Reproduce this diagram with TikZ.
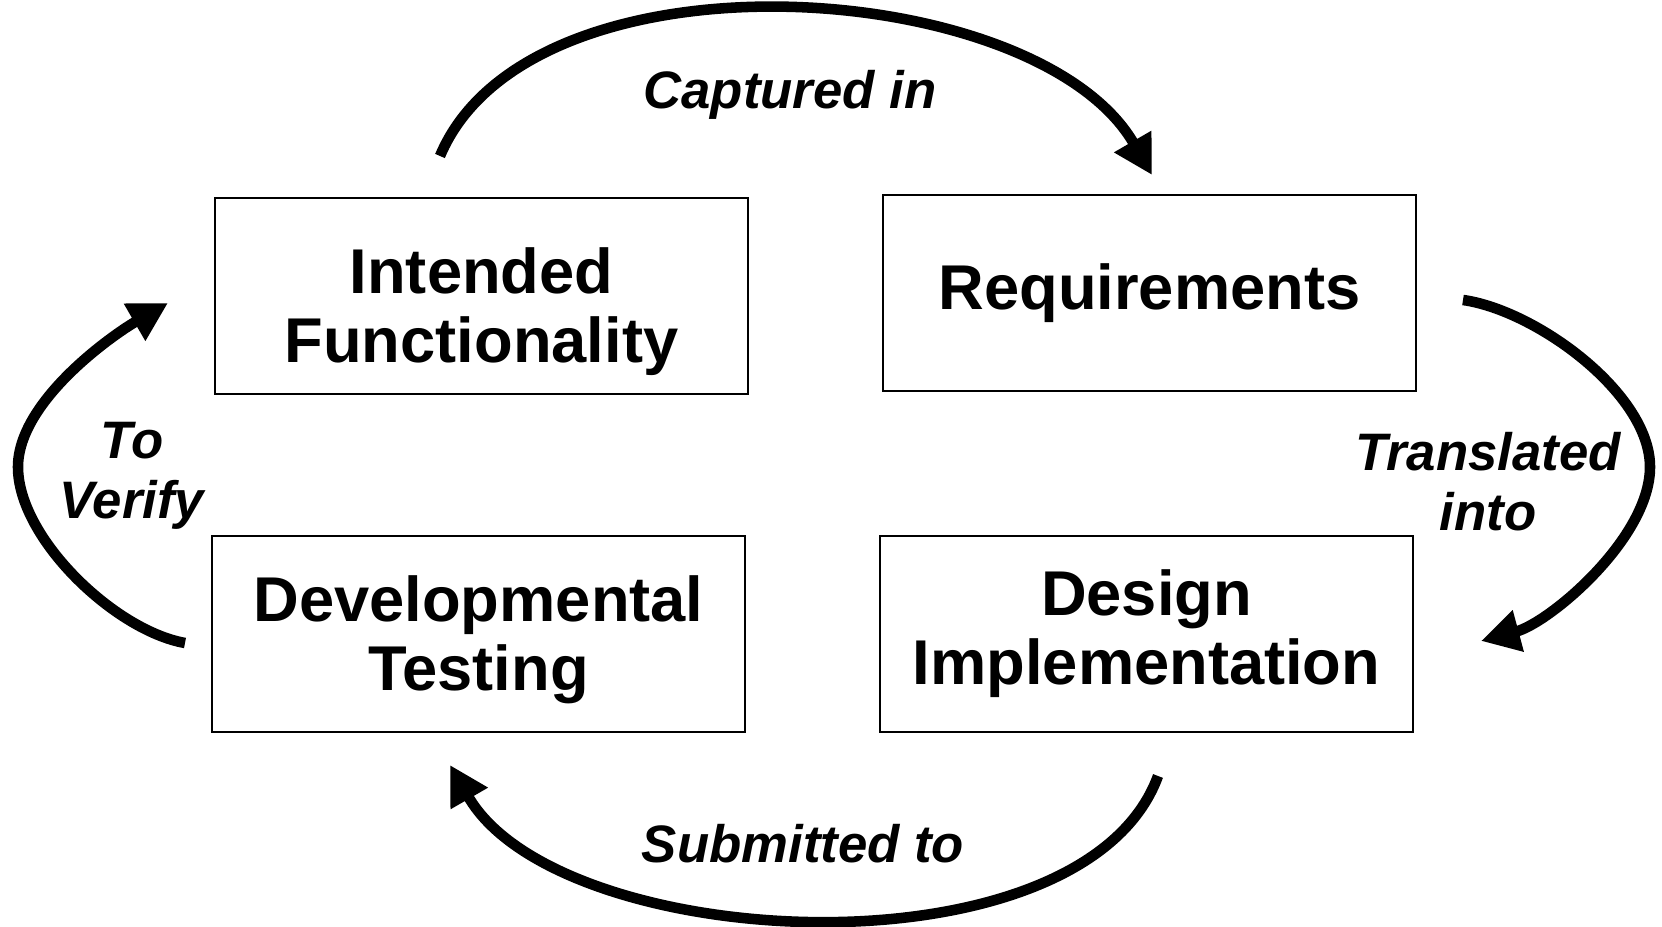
\documentclass[tikz,border=0pt]{standalone}
\usepackage{fontspec}
\setmainfont{Liberation Sans}
\usetikzlibrary{arrows.meta}

\begin{document}
\begin{tikzpicture}[
    box/.style={draw, line width=0.7pt, minimum width=5.33cm, minimum height=1.96cm, inner sep=0pt, align=center, font=\fontsize{18}{19.6}\selectfont\bfseries},
    flow/.style={line width=3pt, -{Triangle[length=11pt, width=11.5pt]}},
    lbl/.style={align=center, font=\fontsize{15}{17}\selectfont\bfseries\itshape}
]
\useasboundingbox (0,0) rectangle (16.62,9.27);

\node[box, text height=43.5pt, text depth=5.6pt] (intent) at (4.815, 6.31) {Intended\\Functionality};
\node[box] (req) at (11.495, 6.34) {Requirements};
\node[box, text height=36pt, text depth=4.1pt] (test) at (4.785, 2.93) {Developmental\\Testing};
\node[box] (design) at (11.465, 2.93) {Design\\Implementation};

% ends of the loop arrows
\coordinate (capS) at (4.40, 7.71);
\coordinate (capE) at (11.52, 7.52);
\coordinate (trS) at (14.63, 6.27);
\coordinate (trM) at (16.50, 4.60);
\coordinate (trE) at (14.81, 2.86);
\coordinate (subS) at (11.58, 1.51);
\coordinate (subE) at (4.50, 1.62);
\coordinate (verS) at (1.85, 2.84);
\coordinate (verM) at (0.18, 4.60);
\coordinate (verE) at (1.68, 6.24);

\draw[flow] (capS) .. controls (5.30, 9.85) and (10.37, 9.51) .. (capE);
\draw[flow, looseness=0.75] (trS) to[out=-8, in=90] (trM) to[out=-90, in=15] (trE);
\draw[flow] (subS) .. controls (10.83, -0.54) and (5.59, -0.27) .. (subE);
\draw[flow, looseness=0.75] (verS) to[out=170, in=-90] (verM) to[out=90, in=-150] (verE);

\node[lbl] (capLbl) at (7.90, 8.32) {Captured in};
\node[lbl] (trLbl) at (14.88, 4.45) {Translated\\into};
\node[lbl] (subLbl) at (8.03, 0.83) {Submitted to};
\node[lbl] (verLbl) at (1.32, 4.51) {To\\Verify};
\end{tikzpicture}
\end{document}
